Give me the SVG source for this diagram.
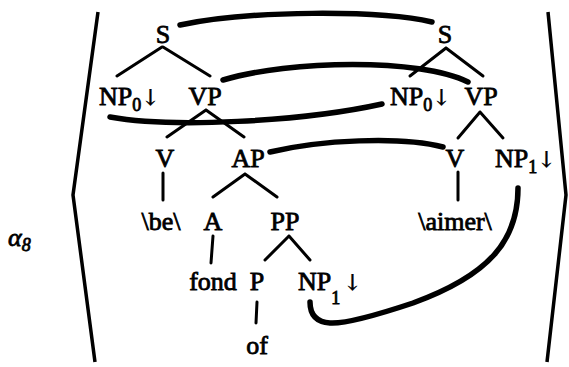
<svg xmlns="http://www.w3.org/2000/svg" width="569" height="367" viewBox="0 0 569 367">
<style>
text{font-family:'Liberation Serif','Tinos','DejaVu Serif','Noto Serif',serif;font-size:26px;fill:#000;stroke:#000;stroke-width:0.8}
.c{text-anchor:middle}
.sub{font-size:18px}
.ar{font-family:'DejaVu Serif','DejaVu Sans',serif;font-size:22px;stroke-width:0.4}
.e{stroke:#000;stroke-width:3;stroke-linecap:round;fill:none}
.lnk{stroke:#000;stroke-width:5.5;stroke-linecap:round;fill:none}
.br{stroke:#000;stroke-width:3.5;fill:none;stroke-linejoin:miter}
</style>
<rect width="569" height="367" fill="#fff"/>
<g id="brackets">
<polyline class="br" points="98,12 73,195 95,362"/>
<polyline class="br" points="548,12 566,195 547,362"/>
</g>
<g id="label"><text x="8" y="246" font-style="italic" stroke-width="0.4">α<tspan class="sub" dy="5">8</tspan></text></g>
<g id="edges">
<path class="e" d="M162,47L117,76M163,47L210,76M206,110L167,137M206,110L244,137M163,173L163,200M245,174L213,197M245,174L277,197M213,236L211,263M289,236L265,260M289,236L310,260M257,302L256,323"/>
<path class="e" d="M446,48L410,76M446,48L483,76M480,112L458,138M480,112L503,138M458,172L458,200"/>
</g>
<g id="left-tree">
<g id="l-S"><text class="c" x="163" y="43">S</text></g>
<g id="l-NP0"><text x="99" y="105">NP<tspan class="sub" dy="6">0</tspan><tspan class="ar" dy="-6">↓</tspan></text></g>
<g id="l-VP"><text class="c" x="205" y="105">VP</text></g>
<g id="l-V"><text class="c" x="165" y="167">V</text></g>
<g id="l-AP"><text class="c" x="248" y="167">AP</text></g>
<g id="l-be"><text class="c" x="161" y="230">\be\</text></g>
<g id="l-A"><text class="c" x="213" y="230">A</text></g>
<g id="l-PP"><text class="c" x="285" y="230">PP</text></g>
<g id="l-fond"><text class="c" x="213" y="290">fond</text></g>
<g id="l-P"><text class="c" x="257" y="290">P</text></g>
<g id="l-NP1"><text x="298" y="290">NP<tspan class="sub" dy="14">1</tspan><tspan class="ar" dx="3" dy="-14">↓</tspan></text></g>
<g id="l-of"><text class="c" x="257" y="354">of</text></g>
</g>
<g id="right-tree">
<g id="r-S"><text class="c" x="445" y="43">S</text></g>
<g id="r-NP0"><text x="390" y="105">NP<tspan class="sub" dy="6">0</tspan><tspan class="ar" dy="-6">↓</tspan></text></g>
<g id="r-VP"><text class="c" x="481" y="105">VP</text></g>
<g id="r-V"><text class="c" x="455" y="167">V</text></g>
<g id="r-NP1"><text x="495" y="167">NP<tspan class="sub" dy="6">1</tspan><tspan class="ar" dy="-6">↓</tspan></text></g>
<g id="r-aimer"><text class="c" x="455" y="230">\aimer\</text></g>
</g>
<g id="connectors">
<path class="lnk" d="M180,25C250,10 380,10 432,22"/>
<path class="lnk" d="M223,80C290,60 420,58 468,82"/>
<path class="lnk" d="M110,117C170,128 300,122 382,104"/>
<path class="lnk" d="M270,152C320,140 400,136 443,147"/>
<path class="lnk" d="M518,188C518,240 490,275 413,303C380,314 345,324 330,323C316,322 310,314 310,302"/>
</g>
</svg>
